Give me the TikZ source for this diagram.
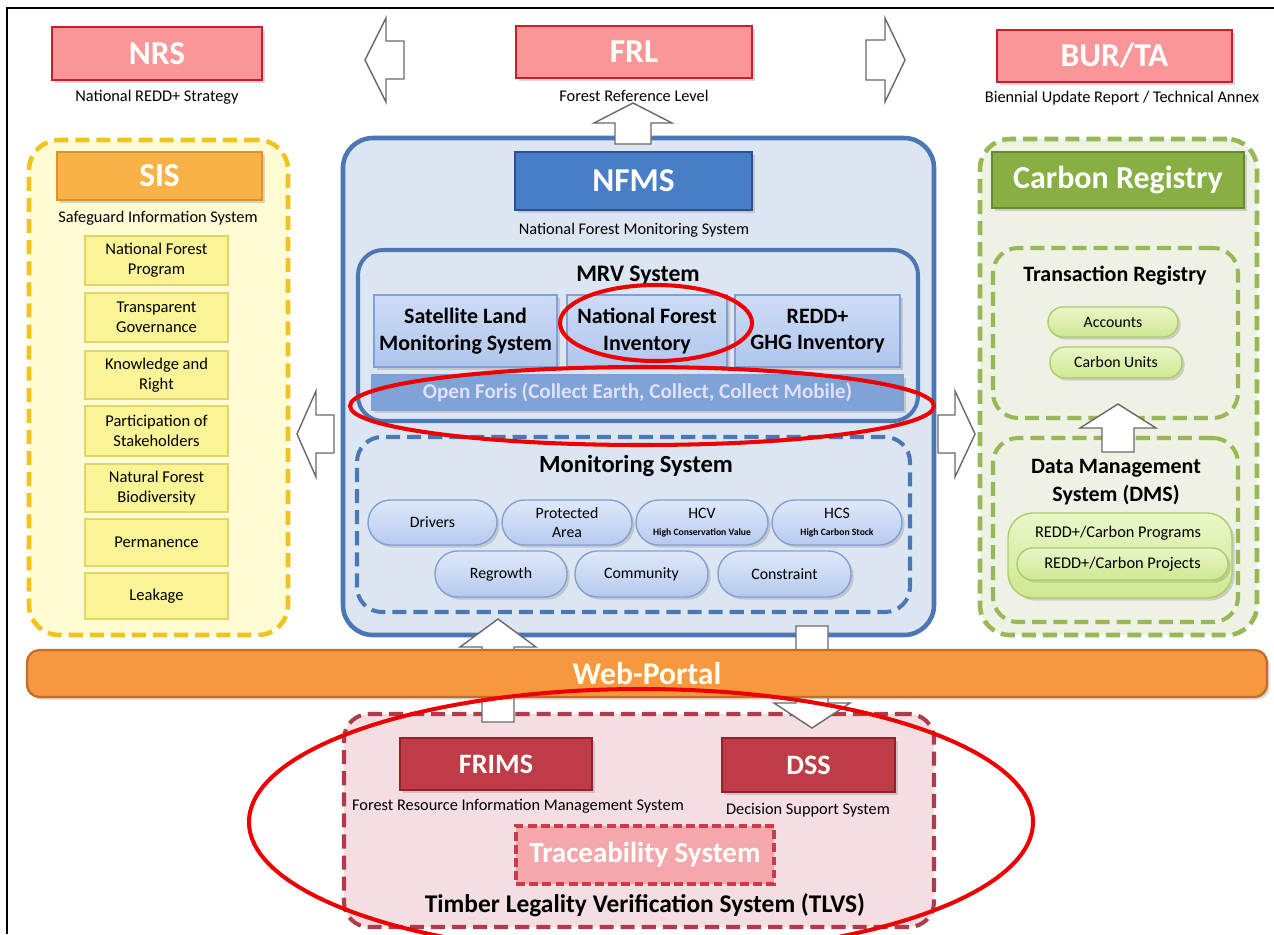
\documentclass[tikz,border=0pt]{standalone}
\usepackage{fontspec}
\setmainfont{Carlito}
\usetikzlibrary{shadows}

\definecolor{nrsfill}{RGB}{250,150,152}
\definecolor{nrsline}{RGB}{205,30,40}
\definecolor{sisfill}{RGB}{248,178,72}
\definecolor{sisline}{RGB}{225,145,40}
\definecolor{sisbg}{RGB}{255,252,212}
\definecolor{sisdash}{RGB}{240,195,30}
\definecolor{sisitem}{RGB}{250,244,150}
\definecolor{sisitemline}{RGB}{225,212,105}
\definecolor{nfmsbg}{RGB}{220,230,242}
\definecolor{nfmsline}{RGB}{75,120,180}
\definecolor{nfmshdr}{RGB}{72,125,200}
\definecolor{nfmshdrline}{RGB}{40,80,150}
\definecolor{mrvtop}{RGB}{205,220,246}
\definecolor{mrvbot}{RGB}{176,198,236}
\definecolor{mrvboxline}{RGB}{125,160,215}
\definecolor{openforis}{RGB}{128,163,215}
\definecolor{pilltop}{RGB}{222,232,250}
\definecolor{pillbot}{RGB}{182,202,238}
\definecolor{pillline}{RGB}{130,160,212}
\definecolor{crbg}{RGB}{238,241,228}
\definecolor{crdash}{RGB}{150,185,85}
\definecolor{crhdr}{RGB}{135,175,68}
\definecolor{crhdrline}{RGB}{100,140,45}
\definecolor{gpilltop}{RGB}{234,246,200}
\definecolor{gpillbot}{RGB}{205,232,145}
\definecolor{gpillline}{RGB}{170,205,110}
\definecolor{webfill}{RGB}{247,152,62}
\definecolor{webline}{RGB}{195,110,40}
\definecolor{tlvsbg}{RGB}{245,222,226}
\definecolor{tlvsdash}{RGB}{175,60,75}
\definecolor{frimsfill}{RGB}{190,60,70}
\definecolor{frimsline}{RGB}{145,35,45}
\definecolor{tracefill}{RGB}{245,168,172}
\definecolor{tracedash}{RGB}{205,60,70}
\definecolor{annot}{RGB}{238,0,0}
\definecolor{arrowline}{RGB}{105,105,105}

\newcommand\fsz[2]{\fontsize{#1}{#2}\selectfont}
% rectangle node from its corners: style, name, x1, y1, x2, y2, text
\newcommand\rbox[7]{\node[#1, minimum width={(#5-#3)*0.02cm}, minimum height={(#6-#4)*0.02cm}]
  (#2) at ({(#3+#5)/2},{(#4+#6)/2}) {#7};}
% vertical block arrow: tip, head half width, head length, shaft half width, shaft length
\newcommand\vblock[5]{\draw[blockarrow] (#1) -- ++(#2,#3) -- ++({-(#2-#4)},0) -- ++(0,#5)
  -- ++({-2*#4},0) -- ++(0,{-#5}) -- ++({-(#2-#4)},0) -- cycle;}
% horizontal block arrow: tip, head half height, head length, shaft half height, shaft length
\newcommand\hblock[5]{\draw[blockarrow] (#1) -- ++(#3,{-#2}) -- ++(0,{#2-#4}) -- ++(#5,0)
  -- ++(0,{2*#4}) -- ++({-#5},0) -- ++(0,{#2-#4}) -- cycle;}

\begin{document}
\begin{tikzpicture}[x=0.02cm,y=-0.02cm,
  box/.style={inner sep=0pt, align=center},
  shadowed/.style={drop shadow={opacity=0.3, shadow xshift=1.5pt, shadow yshift=-1.5pt}},
  hdr/.style={box, shadowed, draw, line width=1.3pt, text=white, font=\bfseries\fsz{19}{22}},
  sub/.style={inner sep=0pt, font=\fsz{9.3}{11}},
  title/.style={inner sep=0pt, align=center, font=\bfseries\fsz{13}{15.5}},
  container/.style={box, line width=2.6pt, rounded corners=0.6cm},
  dashed box/.style={container, dash pattern=on 8pt off 4pt},
  sisitem/.style={box, draw=sisitemline, fill=sisitem, line width=0.8pt, font=\fsz{9.4}{11.5}},
  mrvbox/.style={box, shadowed, draw=mrvboxline, top color=mrvtop, bottom color=mrvbot, line width=1pt, font=\bfseries\fsz{12.5}{15}},
  pill/.style={box, shadowed, draw=pillline, top color=pilltop, bottom color=pillbot, line width=0.8pt, rounded corners=0.45cm, font=\fsz{9}{10.5}},
  gpill/.style={box, shadowed, draw=gpillline, top color=gpilltop, bottom color=gpillbot, line width=0.8pt, rounded corners=0.3cm, font=\fsz{9}{11}},
  blockarrow/.style={draw=arrowline, fill=white, line width=0.8pt, line join=miter},
  annotation/.style={draw=annot, line width=2.3pt}]

\useasboundingbox (0,0) rectangle (1274,934);
\clip (0,0) rectangle (1274,934);
\fill[white] (0,0) rectangle (1274,934);
\draw[black, line width=1.2pt] (1274,8) -- (7,8) -- (7,934);

% ---------- Safeguard Information System ----------
\rbox{dashed box, draw=sisdash, fill=sisbg}{sisc}{29}{140}{288}{635}{}
\rbox{hdr, draw=sisline, fill=sisfill}{sis}{57}{152}{262}{200}{SIS}
\node[sub] (sisl) at (158,218) {Safeguard Information System};
\rbox{sisitem}{s1}{85}{236}{228}{285}{National Forest\\Program}
\rbox{sisitem}{s2}{85}{293}{228}{342}{Transparent\\Governance}
\rbox{sisitem}{s3}{85}{351}{228}{399}{Knowledge and\\Right}
\rbox{sisitem}{s4}{85}{406}{228}{456}{Participation of\\Stakeholders}
\rbox{sisitem}{s5}{85}{464}{228}{512}{Natural Forest\\Biodiversity}
\rbox{sisitem}{s6}{85}{519}{228}{566}{Permanence}
\rbox{sisitem}{s7}{85}{573}{228}{619}{Leakage}

% ---------- National Forest Monitoring System ----------
\rbox{container, draw=nfmsline, fill=nfmsbg}{nfmsc}{343}{138}{934}{635}{}
\rbox{hdr, draw=nfmshdrline, fill=nfmshdr}{nfms}{515}{152}{752}{210}{NFMS}
\node[sub] (nfmsl) at (634,230) {National Forest Monitoring System};

\rbox{container, line width=2.3pt, rounded corners=0.5cm, draw=nfmsline, fill=nfmsbg}{mrvc}{358}{250}{918}{421}{}
\node[title, font=\bfseries\fsz{13.5}{16}] (mrvt) at (638,276) {MRV System};
\rbox{mrvbox}{slms}{374}{295}{557}{367}{Satellite Land\\Monitoring System}
\rbox{mrvbox}{nfi}{567}{295}{727}{367}{National Forest\\Inventory}
\rbox{mrvbox}{ghg}{735}{295}{900}{367}{REDD+\\GHG Inventory}
\rbox{box, shadowed, draw=mrvboxline, fill=openforis, line width=1pt, text=white!88!blue,
  font=\bfseries\fsz{12}{14}}{of}{372}{375}{903}{410}{Open Foris (Collect Earth, Collect, Collect Mobile)}

\rbox{dashed box, line width=2.3pt, rounded corners=0.5cm, draw=nfmsline, fill=nfmsbg}{monc}{357}{437}{910}{612}{}
\node[title, font=\bfseries\fsz{14}{16}] (mont) at (636,466) {Monitoring System};
\rbox{pill}{drv}{368}{500}{497}{545}{Drivers}
\rbox{pill}{pa}{502}{500}{632}{545}{Protected\\Area}
\rbox{pill}{hcv}{636}{500}{768}{545}{HCV\\[-1pt]{\bfseries\fsz{5.5}{7}High Conservation Value}}
\rbox{pill}{hcs}{772}{500}{902}{545}{HCS\\[-1pt]{\bfseries\fsz{5.5}{7}High Carbon Stock}}
\rbox{pill}{reg}{435}{551}{567}{597}{Regrowth}
\rbox{pill}{com}{575}{551}{708}{597}{Community}
\rbox{pill}{con}{718}{551}{851}{597}{Constraint}

% ---------- Carbon Registry ----------
\rbox{dashed box, draw=crdash, fill=crbg}{crc}{980}{139}{1257}{635}{}
\rbox{hdr, draw=crhdrline, fill=crhdr, font=\bfseries\fsz{18.2}{20}}{cr}{992}{152}{1244}{208}{Carbon Registry}
\rbox{dashed box, line width=2.3pt, rounded corners=0.5cm, draw=crdash, fill=crbg}{trc}{993}{248}{1238}{418}{}
\node[title, font=\bfseries\fsz{12.5}{15}] (trt) at (1115,276) {Transaction Registry};
\rbox{gpill}{acc}{1048}{307}{1178}{337}{Accounts}
\rbox{gpill}{cu}{1050}{347}{1182}{378}{Carbon Units}
\rbox{dashed box, line width=2.3pt, rounded corners=0.5cm, draw=crdash, fill=crbg}{dmsc}{993}{438}{1238}{622}{}
\node[title, font=\bfseries\fsz{12.5}{16}] (dmst) at (1116,482) {Data Management\\System (DMS)};
\rbox{gpill, rounded corners=0.5cm}{prog}{1008}{513}{1232}{598}{}
\node[font=\fsz{9.3}{11}, inner sep=0pt] (progt) at (1118,533) {REDD+/Carbon Programs};
\rbox{gpill, rounded corners=0.32cm, font=\fsz{9.3}{11}}{proj}{1017}{548}{1228}{580}{REDD+/Carbon Projects}
\coordinate (crup) at (1118,404);
\vblock{crup}{38}{24}{16}{24}

% ---------- reporting products ----------
\rbox{hdr, draw=nrsline, fill=nrsfill}{nrs}{52}{27}{262}{80}{NRS}
\node[sub] (nrsl) at (157,97) {National REDD+ Strategy};
\rbox{hdr, draw=nrsline, fill=nrsfill}{frl}{516}{26}{752}{78}{FRL}
\node[sub] (frll) at (634,96) {Forest Reference Level};
\rbox{hdr, draw=nrsline, fill=nrsfill}{bur}{997}{30}{1232}{82}{BUR/TA}
\node[sub] (burl) at (1122,98) {Biennial Update Report / Technical Annex};

\coordinate (toleft) at (365,60);
\hblock{toleft}{42}{21}{19}{18}
\coordinate (toright) at (905,60);
\hblock{toright}{42}{-20}{20}{-19}
\coordinate (tofrl) at (633,103);
\vblock{tofrl}{39}{20}{18}{21}
\coordinate (tosis) at (297,434);
\hblock{tosis}{43}{19}{19}{18}
\coordinate (tocr) at (975,434);
\hblock{tocr}{43}{-20}{19}{-17}

% ---------- Timber Legality Verification System ----------
\rbox{dashed box, line width=2.3pt, rounded corners=0.5cm, draw=tlvsdash, fill=tlvsbg}{tlvsc}{344}{714}{934}{927}{}
\rbox{hdr, draw=frimsline, fill=frimsfill, font=\bfseries\fsz{16}{19}}{frims}{400}{738}{592}{790}{FRIMS}
\node[sub] (frimsl) at (518,806) {Forest Resource Information Management System};
\rbox{hdr, draw=frimsline, fill=frimsfill, font=\bfseries\fsz{16}{19}}{dss}{722}{738}{895}{792}{DSS}
\node[sub] (dssl) at (808,810) {Decision Support System};
\rbox{box, draw=tracedash, fill=tracefill, line width=1.8pt, dash pattern=on 5pt off 2.5pt,
  text=white, font=\bfseries\fsz{16.5}{18}}{trace}{516}{826}{774}{884}{Traceability System}
\node[title, font=\bfseries\fsz{14.5}{16}] (tlvst) at (645,905) {Timber Legality Verification System (TLVS)};

\coordinate (tonfms) at (498,619);
\vblock{tonfms}{38}{28}{16}{75}
\coordinate (todss) at (812,728);
\vblock{todss}{38}{-25}{16}{-77}

% ---------- Web portal ----------
\rbox{box, shadowed, draw=webline, fill=webfill, line width=1.3pt, rounded corners=0.25cm,
  text=white!94!yellow, font=\bfseries\fsz{18}{21}}{web}{27}{650}{1267}{697}{Web-Portal}

% ---------- highlights ----------
\draw[annotation] (656,323) ellipse [x radius=96, y radius=38];
\draw[annotation] (642,406) ellipse [x radius=292, y radius=39];
\draw[annotation] (641,822) ellipse [x radius=392, y radius=133];
\end{tikzpicture}
\end{document}
